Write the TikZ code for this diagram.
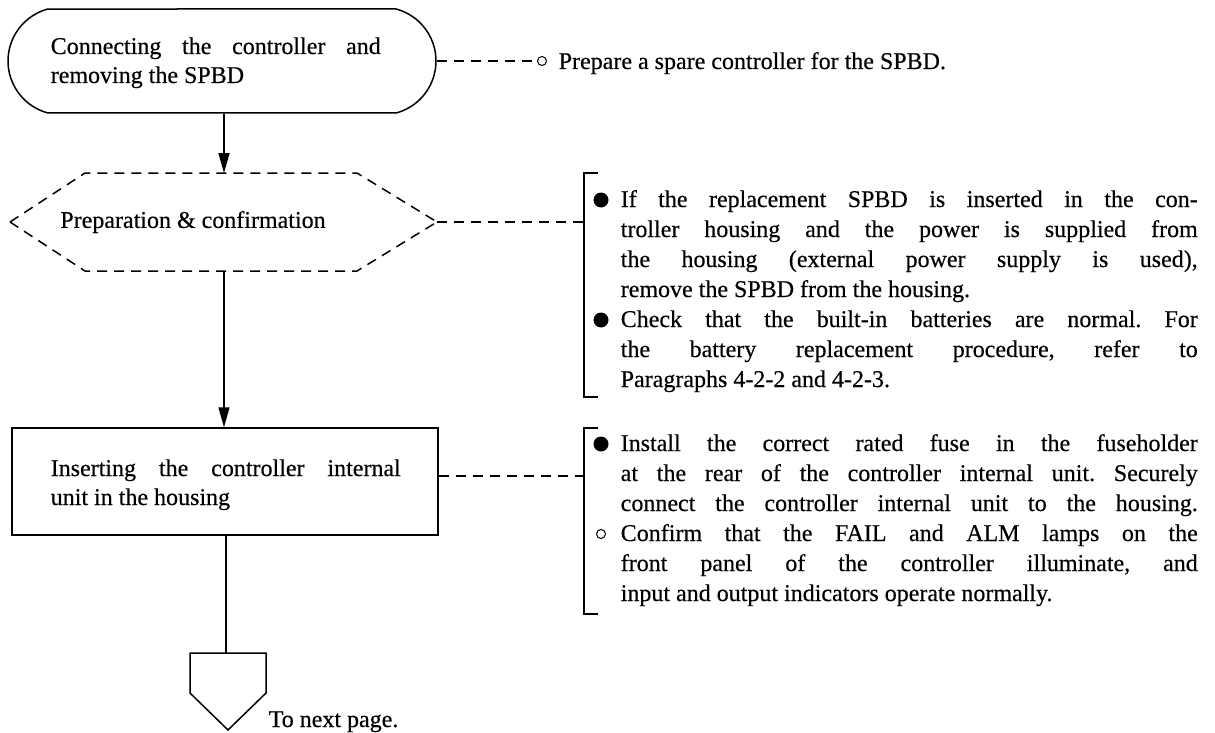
\documentclass[tikz,border=0pt]{standalone}
\usepackage{fontspec}
\setmainfont{Liberation Serif}[FakeBold=0.4]
\usetikzlibrary{shapes.misc,arrows.meta}
% a line set to a given width, with its interword spaces stretched
\newcommand{\spread}[2]{\makebox[#1pt][s]{#2}}
\frenchspacing
\begin{document}
\begin{tikzpicture}[x=1pt,y=-1pt,line width=1.5pt,
  body/.style={font=\fontsize{24}{30}\selectfont},
  lbl/.style={body,inner sep=0pt,anchor=base west},
  dsh/.style={dash pattern=on 10pt off 7pt},
  flow/.style={-{Triangle[length=20pt,width=11pt]}},
  dot/.style={circle,fill,inner sep=0pt,minimum size=15pt},
  ring/.style={circle,draw,line width=1pt,inner sep=0pt,minimum size=9pt},
  bracket/.style={line width=1.5pt}]
\useasboundingbox (0,0) rectangle (1215,733);

% --- start terminal
\node[draw,rounded rectangle,rounded rectangle arc length=150,
      minimum width=428pt,minimum height=104pt,inner sep=0pt] (start) at (222,61) {};
\node[lbl] (startA) at (50,54) {\spread{330}{Connecting the controller and}};
\node[lbl] (startB) at (50,83) {removing the SPBD};

\node[ring] (prepring) at (542,61) {};
\node[lbl] (preptext) at (558,69) {Prepare a spare controller for the SPBD.};
\draw[dsh] (start.east) -- (prepring.west);

% --- preparation (dashed hexagon)
\coordinate (hexW) at (10,222);
\coordinate (hexE) at (437,222);
\coordinate (hexN) at (224,173);
\coordinate (hexS) at (224,271);
\draw[dsh] (hexW) -- (85,173) -- (357,173) -- (hexE) -- (357,271) -- (85,271) -- cycle;
\node[body,inner sep=0pt] (hex) at (193,222) {Preparation \& confirmation};
\draw[flow] (start.south -| hexN) -- (hexN);

% --- process box
\node[draw,minimum width=426pt,minimum height=107pt,inner sep=0pt] (insert) at (225,481.5) {};
\node[lbl] (insA) at (50,476) {\spread{350}{Inserting the controller internal}};
\node[lbl] (insB) at (50,505) {unit in the housing};
\draw[flow] (hexS) -- (hexS |- insert.north);

% --- off-page connector
\coordinate (offN) at (226,653);
\draw (190,653) -- (266,653) -- (266,693) -- (228,730) -- (190,693) -- cycle;
\draw (insert.south -| offN) -- (offN);
\node[lbl] (nextpage) at (268,727) {To next page.};

% --- notes, first group
\draw[bracket] (598,173) -- (584,173) -- (584,397) -- (598,397);
\coordinate (br1) at (584,222);
\draw[dsh] (hexE) -- (br1);
\node[dot] (d1) at (601,200) {};
\node[lbl] (n1a) at (620,207) {\spread{577}{If the replacement SPBD is inserted in the con-}};
\node[lbl] (n1b) at (620,237) {\spread{577}{troller housing and the power is supplied from}};
\node[lbl] (n1c) at (620,267) {\spread{577}{the housing (external power supply is used),}};
\node[lbl] (n1d) at (620,297) {remove the SPBD from the housing.};
\node[dot] (d2) at (601,320) {};
\node[lbl] (n2a) at (620,327) {\spread{577}{Check that the built-in batteries are normal. For}};
\node[lbl] (n2b) at (620,357) {\spread{577}{the battery replacement procedure, refer to}};
\node[lbl] (n2c) at (620,387) {Paragraphs 4-2-2 and 4-2-3.};

% --- notes, second group
\draw[bracket] (598,428) -- (584,428) -- (584,614) -- (598,614);
\coordinate (br2) at (584,476);
\draw[dsh] (insert.east |- br2) -- (br2);
\node[dot] (d3) at (601,444) {};
\node[lbl] (n3a) at (620,451) {\spread{577}{Install the correct rated fuse in the fuseholder}};
\node[lbl] (n3b) at (620,481) {\spread{577}{at the rear of the controller internal unit. Securely}};
\node[lbl] (n3c) at (620,511) {\spread{577}{connect the controller internal unit to the housing.}};
\node[ring] (r4) at (601,534) {};
\node[lbl] (n4a) at (620,541) {\spread{577}{Confirm that the FAIL and ALM lamps on the}};
\node[lbl] (n4b) at (620,571) {\spread{577}{front panel of the controller illuminate, and}};
\node[lbl] (n4c) at (620,601) {input and output indicators operate normally.};
\end{tikzpicture}
\end{document}
